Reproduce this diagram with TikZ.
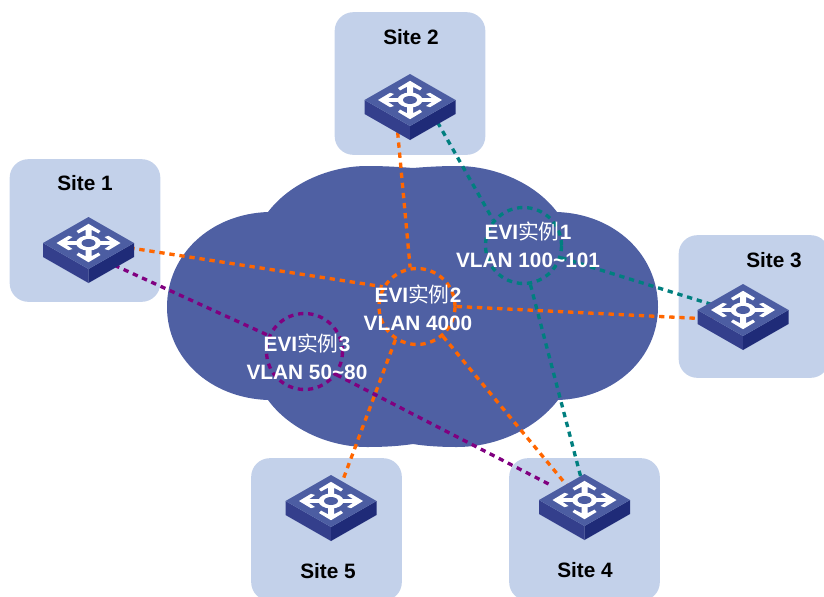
\documentclass[tikz,border=0pt]{standalone}
\usepackage{fontspec}
\usepackage{xcolor}
\setmainfont{Liberation Sans}
\newfontfamily\cjkfont{Noto Sans CJK SC}
\definecolor{sitefill}{HTML}{C3D1EA}
\definecolor{cloudfill}{HTML}{4F60A3}
\definecolor{swtop}{HTML}{4C5DA2}
\definecolor{swleft}{HTML}{343F8C}
\definecolor{swright}{HTML}{1F2B78}
\definecolor{linkorange}{HTML}{FF6600}
\definecolor{linkteal}{HTML}{007F7F}
\definecolor{linkpurple}{HTML}{800080}
\newcommand{\shili}{{\cjkfont\mdseries 实例}}
\tikzset{
    sitebox/.style={fill=sitefill, rounded corners=14pt, minimum width=113pt, minimum height=107pt, inner sep=0pt},
    sitelabel/.style={font=\fontsize{15.6}{18}\selectfont\bfseries, inner sep=0pt},
    evilabel/.style={font=\fontsize{15.6}{21}\selectfont\bfseries, text=white, align=center, inner sep=0pt},
    switchbox/.style={minimum width=45pt, minimum height=22.5pt, inner sep=0pt},
    evicircle/.style={circle, minimum size=57pt, inner sep=0pt, line width=2.5pt, dash pattern=on 4pt off 3.6pt},
    link/.style={line width=2.5pt, dash pattern=on 4pt off 3.6pt},
    switch/.pic={
        \fill [swleft] (-45.5,0)--(0,26)--(0,40)--(-45.5,14)--cycle;
        \fill [swright] (45.5,0)--(0,26)--(0,40)--(45.5,14)--cycle;
        \fill [swtop] (0,-26)--(45.5,0)--(0,26)--(-45.5,0)--cycle;
        \begin{scope}[yscale=0.6]
            \foreach \a in {0,90,180,270}
                \fill [white, rotate=\a] (32,0)--(20,12)--(16,10)--(22,3)--(10,3)--(10,-3)--(22,-3)--(16,-10)--(20,-12)--cycle;
        \end{scope}
        \fill [white] (0,0) ellipse [x radius=12.5, y radius=7.5];
        \fill [swtop] (0,0) ellipse [x radius=7, y radius=4];
    }
}
\begin{document}
\begin{tikzpicture}[x=0.75pt, y=-0.75pt]
            \useasboundingbox (0,0) rectangle (824,596);
            \clip (0,0) rectangle (824,596);
            \node [sitebox] (site1) at (85,230.5) {};
            \node [sitebox] (site2) at (410,83.5) {};
            \node [sitebox] (site3) at (754,306.5) {};
            \node [sitebox] (site4) at (584.5,529.5) {};
            \node [sitebox] (site5) at (326.5,529.5) {};
            \fill [cloudfill] (268,212) .. controls (210,214) and (167,255) .. (167,307)
                .. controls (167,358) and (210,398) .. (268,400)
                .. controls (290,430) and (330,447) .. (367,447)
                .. controls (385,447) and (400,446) .. (413,444)
                .. controls (425,446) and (440,447) .. (457,447)
                .. controls (495,447) and (535,430) .. (558,400)
                .. controls (615,398) and (658,358) .. (658,307)
                .. controls (658,255) and (615,214) .. (557,212)
                .. controls (535,183) and (495,166) .. (457,166)
                .. controls (440,166) and (425,167) .. (413,168)
                .. controls (400,167) and (385,166) .. (367,166)
                .. controls (330,166) and (290,183) .. (268,212) -- cycle;
            \node [switchbox] (sw1) at (89,250) {};
            \node [switchbox] (sw2) at (410,107) {};
            \node [switchbox] (sw3) at (743,317) {};
            \node [switchbox] (sw4) at (584.5,506.5) {};
            \node [switchbox] (sw5) at (331,508) {};
            \node [evicircle, draw=linkteal] (evi1) at (523.5,245.5) {};
            \node [evicircle, draw=linkorange] (evi2) at (417,306.5) {};
            \node [evicircle, draw=linkpurple] (evi3) at (304.5,351.5) {};
            \draw [link, linkorange] (sw1.7)-- (evi2.150);
            \draw [link, linkorange] (sw2.229)-- (evi2.100);
            \draw [link, linkorange] (evi2.0)-- (sw3.184);
            \draw [link, linkorange] (evi2.311)-- (sw4.130);
            \draw [link, linkorange] (evi2.237)-- (sw5.65);
            \draw [link, linkteal] (sw2.331)-- (evi1.140);
            \draw [link, linkteal] (evi1.342)-- (sw3.158);
            \draw [link, linkteal] (evi1.280)-- (sw4.north);
            \draw [link, linkpurple] (sw1.329)-- (evi3.156);
            \draw [link, linkpurple, shorten >=11pt] (evi3.324)-- (sw4.145);
            \pic at (88.5,243) {switch};
            \pic at (410,100) {switch};
            \pic at (743,310) {switch};
            \pic at (584.5,500) {switch};
            \pic at (331,501) {switch};
            \node [sitelabel] (label1) at (85,183) {Site 1};
            \node [sitelabel] (label2) at (411,37) {Site 2};
            \node [sitelabel] (label3) at (774,260) {Site 3};
            \node [sitelabel] (label4) at (585,570) {Site 4};
            \node [sitelabel] (label5) at (328,571) {Site 5};
            \node [evilabel] (text1) at (528,245) {EVI\shili 1\\VLAN 100\char`~101};
            \node [evilabel] (text2) at (418,308) {EVI\shili 2\\VLAN 4000};
            \node [evilabel] (text3) at (307,357) {EVI\shili 3\\VLAN 50\char`~80};
        \end{tikzpicture}
\end{document}
